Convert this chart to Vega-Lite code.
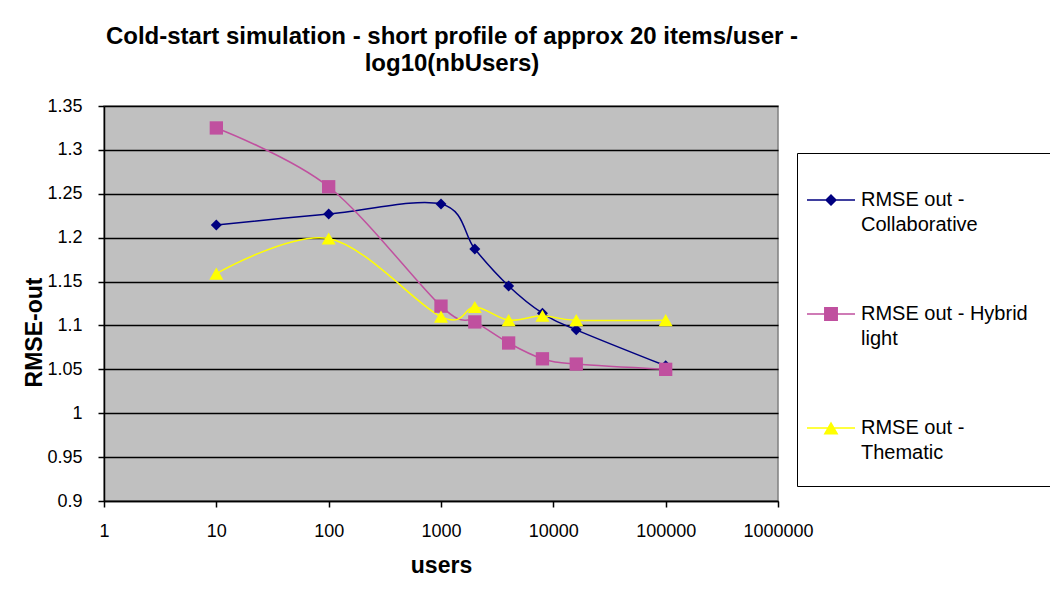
{
  "$schema": "https://vega.github.io/schema/vega-lite/v6.json",
  "width": 674,
  "height": 395,
  "autosize": "none",
  "padding": {"left": 104, "top": 106, "right": 272, "bottom": 111},
  "background": "white",
  "title": {
    "text": ["Cold-start simulation - short profile of approx 20 items/user -", "log10(nbUsers)"],
    "font": "Liberation Sans",
    "fontSize": 24,
    "fontWeight": "bold",
    "lineHeight": 27,
    "anchor": "middle",
    "dx": 11,
    "offset": 21,
    "color": "black"
  },
  "config": {
    "view": {"fill": "#C0C0C0", "stroke": "#808080", "strokeWidth": 1.5},
    "style": {"guide-label": {"lineHeight": 25}},
    "axis": {
      "labelFont": "Liberation Sans",
      "labelFontSize": 18,
      "labelColor": "black",
      "titleFont": "Liberation Sans",
      "titleFontSize": 23,
      "titleFontWeight": "bold",
      "titleColor": "black",
      "domainColor": "black",
      "domainWidth": 1.5,
      "tickColor": "black",
      "tickWidth": 1.5,
      "tickSize": 6
    }
  },
  "data": {
    "values": [
      {"users": 10, "rmse": 1.2145, "series": "RMSE out - Collaborative"},
      {"users": 100, "rmse": 1.227, "series": "RMSE out - Collaborative"},
      {"users": 1000, "rmse": 1.2384, "series": "RMSE out - Collaborative"},
      {"users": 2000, "rmse": 1.187, "series": "RMSE out - Collaborative"},
      {"users": 4000, "rmse": 1.145, "series": "RMSE out - Collaborative"},
      {"users": 8000, "rmse": 1.114, "series": "RMSE out - Collaborative"},
      {"users": 16000, "rmse": 1.095, "series": "RMSE out - Collaborative"},
      {"users": 100000, "rmse": 1.054, "series": "RMSE out - Collaborative"},
      {"users": 10, "rmse": 1.325, "series": "RMSE out - Hybrid light"},
      {"users": 100, "rmse": 1.258, "series": "RMSE out - Hybrid light"},
      {"users": 1000, "rmse": 1.122, "series": "RMSE out - Hybrid light"},
      {"users": 2000, "rmse": 1.104, "series": "RMSE out - Hybrid light"},
      {"users": 4000, "rmse": 1.08, "series": "RMSE out - Hybrid light"},
      {"users": 8000, "rmse": 1.062, "series": "RMSE out - Hybrid light"},
      {"users": 16000, "rmse": 1.056, "series": "RMSE out - Hybrid light"},
      {"users": 100000, "rmse": 1.05, "series": "RMSE out - Hybrid light"},
      {"users": 10, "rmse": 1.159, "series": "RMSE out - Thematic"},
      {"users": 100, "rmse": 1.199, "series": "RMSE out - Thematic"},
      {"users": 1000, "rmse": 1.11, "series": "RMSE out - Thematic"},
      {"users": 2000, "rmse": 1.121, "series": "RMSE out - Thematic"},
      {"users": 4000, "rmse": 1.106, "series": "RMSE out - Thematic"},
      {"users": 8000, "rmse": 1.111, "series": "RMSE out - Thematic"},
      {"users": 16000, "rmse": 1.106, "series": "RMSE out - Thematic"},
      {"users": 100000, "rmse": 1.106, "series": "RMSE out - Thematic"}
    ]
  },
  "encoding": {
    "x": {
      "field": "users",
      "type": "quantitative",
      "scale": {"type": "log", "domain": [1, 1000000], "nice": false},
      "axis": {
        "title": "users",
        "values": [1, 10, 100, 1000, 10000, 100000, 1000000],
        "format": "d",
        "grid": false,
        "labelPadding": 15,
        "titlePadding": 14,
        "labelFlush": false,
        "labelOverlap": false
      }
    },
    "y": {
      "field": "rmse",
      "type": "quantitative",
      "scale": {"domain": [0.9, 1.35], "nice": false, "zero": false},
      "axis": {
        "title": "RMSE-out",
        "values": [0.9, 0.95, 1, 1.05, 1.1, 1.15, 1.2, 1.25, 1.3, 1.35],
        "format": "~g",
        "grid": true,
        "gridColor": "black",
        "gridWidth": 1.5,
        "gridOpacity": 1,
        "labelPadding": 16,
        "titlePadding": 0,
        "titleY": 226,
        "labelFlush": false,
        "labelOverlap": false
      }
    },
    "color": {
      "field": "series",
      "type": "nominal",
      "scale": {
        "domain": ["RMSE out - Collaborative", "RMSE out - Hybrid light", "RMSE out - Thematic"],
        "range": ["#000080", "#C0509F", "#FFFF00"]
      },
      "legend": {
        "orient": "none",
        "legendX": 693,
        "legendY": 47,
        "title": null,
        "direction": "vertical",
        "strokeColor": "black",
        "fillColor": "white",
        "padding": 23,
        "symbolOffset": -13,
        "symbolSize": 2304,
        "symbolOpacity": 1,
        "symbolStrokeWidth": 0,
        "labelFont": "Liberation Sans",
        "labelFontSize": 20,
        "labelColor": "black",
        "labelOffset": 6,
        "labelLimit": 400,
        "rowPadding": 55,
        "labelExpr": "datum.value == 'RMSE out - Collaborative' ? ['RMSE out -', 'Collaborative'] : datum.value == 'RMSE out - Hybrid light' ? ['RMSE out - Hybrid', 'light'] : ['RMSE out -', 'Thematic']"
      }
    }
  },
  "layer": [
    {
      "mark": {"type": "line", "interpolate": "cardinal", "strokeWidth": 1.5}
    },
    {
      "transform": [{"filter": "datum.series == 'RMSE out - Collaborative'"}],
      "mark": {"type": "point", "filled": true, "opacity": 1, "shape": "diamond", "size": 121}
    },
    {
      "transform": [{"filter": "datum.series == 'RMSE out - Hybrid light'"}],
      "mark": {"type": "point", "filled": true, "opacity": 1, "shape": "square", "size": 177}
    },
    {
      "transform": [{"filter": "datum.series == 'RMSE out - Thematic'"}],
      "mark": {"type": "point", "filled": true, "opacity": 1, "shape": "triangle-up", "size": 196}
    },
    {
      "mark": {"type": "point", "filled": true, "opacity": 1, "fill": "transparent", "size": 2304},
      "encoding": {
        "shape": {
          "field": "series",
          "type": "nominal",
          "scale": {
            "domain": ["RMSE out - Collaborative", "RMSE out - Hybrid light", "RMSE out - Thematic"],
            "range": [
              "M-1,-0.03H1V0.03H-1Z M0,-0.25L0.25,0L0,0.25L-0.25,0Z",
              "M-1,-0.03H1V0.03H-1Z M-0.29,-0.29H0.29V0.29H-0.29Z",
              "M-1,-0.03H1V0.03H-1Z M0,-0.27L0.31,0.27H-0.31Z"
            ]
          }
        }
      }
    }
  ]
}
